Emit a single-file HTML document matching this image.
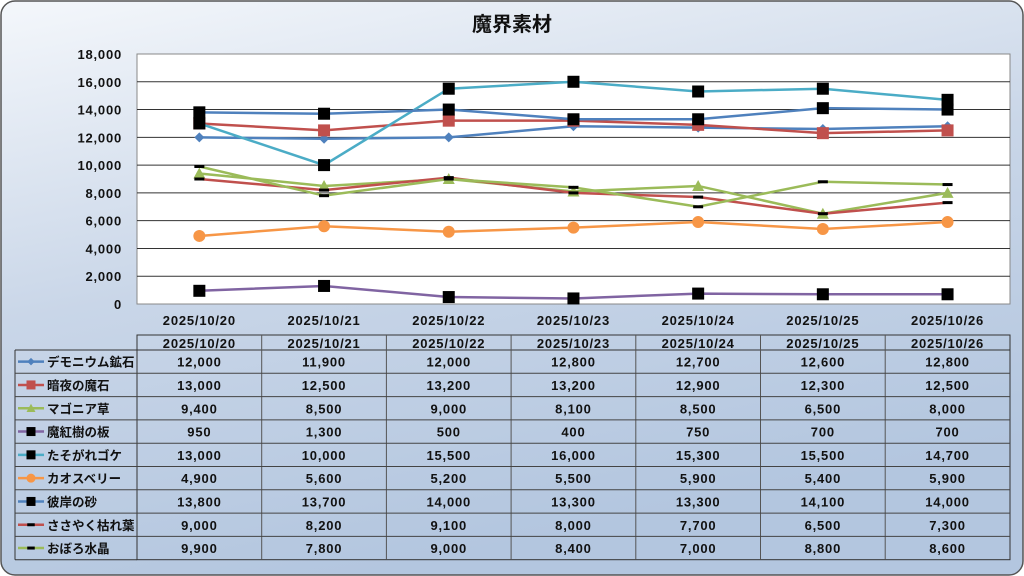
<!DOCTYPE html>
<html><head><meta charset="utf-8"><style>
html,body{margin:0;padding:0;width:1024px;height:576px;overflow:hidden;background:#fff}
svg{display:block;font-family:"Liberation Sans","Noto Sans CJK JP",sans-serif}
</style></head><body>
<svg id="s" width="1024" height="576" xmlns="http://www.w3.org/2000/svg">
<defs>
<linearGradient id="bg" x1="0" y1="0" x2="0.35" y2="1">
<stop offset="0" stop-color="#f4f7fb"/><stop offset="0.5" stop-color="#c9d6e8"/><stop offset="1" stop-color="#b3c6df"/>
</linearGradient>
</defs>
<rect x="1" y="1" width="1022" height="574" rx="14" fill="url(#bg)" stroke="#555" stroke-width="1.5"/>
<text x="512" y="31" text-anchor="middle" font-size="20" font-weight="bold" fill="#111">魔界素材</text>
<rect x="137" y="54" width="873" height="250" fill="#fff" stroke="#888"/>
<g id="g"></g>
</svg>
<script>
const g=document.getElementById('g');let h='';
const L=137,W=124.7,Y=v=>304-v*250/18000,X=i=>L+W*(i+0.5);
const N='font-size="13" font-weight="bold" fill="#111" letter-spacing="0.8"';
for(let v=0;v<=18000;v+=2000){const y=Y(v);
 if(v>0&&v<18000)h+=`<line x1="${L}" x2="1010" y1="${y}" y2="${y}" stroke="#333" stroke-width="1"/>`;
 h+=`<text x="122" y="${y+5}" text-anchor="end" ${N}>${v.toLocaleString('en-US')}</text>`;}
const dates=['2025/10/20','2025/10/21','2025/10/22','2025/10/23','2025/10/24','2025/10/25','2025/10/26'];
dates.forEach((d,i)=>h+=`<text x="${X(i)}" y="325" text-anchor="middle" ${N}>${d}</text>`);
const S=[
['デモニウム鉱石','#4f81bd','dia',[12000,11900,12000,12800,12700,12600,12800]],
['暗夜の魔石','#c0504d','sq',[13000,12500,13200,13200,12900,12300,12500]],
['マゴニア草','#9bbb59','tri',[9400,8500,9000,8100,8500,6500,8000]],
['魔紅樹の板','#8064a2','bsq',[950,1300,500,400,750,700,700]],
['たそがれゴケ','#4bacc6','bsq',[13000,10000,15500,16000,15300,15500,14700]],
['カオスベリー','#f79646','circ',[4900,5600,5200,5500,5900,5400,5900]],
['彼岸の砂','#4f81bd','bsq',[13800,13700,14000,13300,13300,14100,14000]],
['ささやく枯れ葉','#c0504d','dash',[9000,8200,9100,8000,7700,6500,7300]],
['おぼろ水晶','#9bbb59','dash',[9900,7800,9000,8400,7000,8800,8600]]];
function mk(t,c,x,y,s){s=s||1;
 if(t=='dia')return `<path d="M${x} ${y-5*s}L${x+5*s} ${y}L${x} ${y+5*s}L${x-5*s} ${y}Z" fill="${c}"/>`;
 if(t=='sq')return `<rect x="${x-6*s}" y="${y-6*s}" width="${12*s}" height="${12*s}" fill="${c}"/>`;
 if(t=='tri')return `<path d="M${x} ${y-6*s}L${x+6*s} ${y+5*s}L${x-6*s} ${y+5*s}Z" fill="${c}"/>`;
 if(t=='bsq')return `<rect x="${x-6*s}" y="${y-6*s}" width="${12*s}" height="${12*s}" fill="#000"/>`;
 if(t=='circ')return `<circle cx="${x}" cy="${y}" r="${6*s}" fill="${c}"/>`;
 if(t=='dash')return `<rect x="${x-5*s}" y="${y-1.5}" width="${10*s}" height="3" fill="#000"/>`;}
S.forEach(([n,c,t,d])=>{h+=`<polyline fill="none" stroke="${c}" stroke-width="2.5" points="${d.map((v,i)=>X(i)+','+Y(v)).join(' ')}"/>`;
 d.forEach((v,i)=>h+=mk(t,c,X(i),Y(v)));});
const T0=335,HR=15,RH=23.3,TB=T0+HR+RH*9;
h+=`<rect x="${L}" y="${T0}" width="873" height="${TB-T0}" fill="none" stroke="#333"/>`;
h+=`<line x1="15" x2="1010" y1="${T0+HR}" y2="${T0+HR}" stroke="#333"/>`;
h+=`<line x1="15" x2="15" y1="${T0+HR}" y2="${TB}" stroke="#333"/><line x1="15" x2="${L}" y1="${TB}" y2="${TB}" stroke="#333"/>`;
for(let i=1;i<7;i++)h+=`<line x1="${L+W*i}" x2="${L+W*i}" y1="${T0}" y2="${TB}" stroke="#555"/>`;
dates.forEach((d,i)=>h+=`<text x="${X(i)}" y="${T0+13}" text-anchor="middle" ${N}>${d}</text>`);
S.forEach(([n,c,t,d],r)=>{const y=T0+HR+RH*r;
 if(r>0)h+=`<line x1="15" x2="1010" y1="${y}" y2="${y}" stroke="#444"/>`;
 const cy=y+RH/2;
 h+=`<line x1="18" x2="44" y1="${cy}" y2="${cy}" stroke="${c}" stroke-width="2.5"/>`+mk(t,c,31,cy,0.75);
 h+=`<text x="47" y="${cy+5}" font-size="12.5" font-weight="bold" fill="#111">${n}</text>`;
 d.forEach((v,i)=>h+=`<text x="${X(i)}" y="${cy+5}" text-anchor="middle" ${N}>${v.toLocaleString('en-US')}</text>`);});
g.innerHTML=h;
</script>
</body></html>
